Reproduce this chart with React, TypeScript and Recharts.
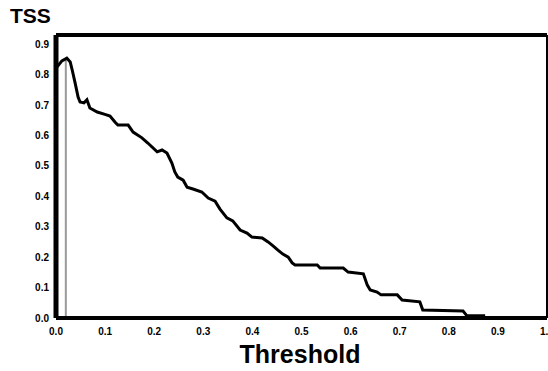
import React from 'react';
import { LineChart, Line, XAxis, YAxis, ReferenceLine } from 'recharts';

const thresholds = [0.002, 0.012, 0.022, 0.029, 0.033, 0.039, 0.045, 0.049, 0.057, 0.063, 0.069, 0.084, 0.098, 0.110, 0.120, 0.126, 0.147, 0.157, 0.175, 0.187, 0.206, 0.216, 0.226, 0.236, 0.242, 0.248, 0.259, 0.267, 0.279, 0.297, 0.310, 0.324, 0.334, 0.348, 0.360, 0.375, 0.389, 0.399, 0.420, 0.432, 0.442, 0.452, 0.462, 0.473, 0.481, 0.487, 0.532, 0.538, 0.585, 0.595, 0.626, 0.634, 0.640, 0.654, 0.662, 0.695, 0.705, 0.741, 0.747, 0.829, 0.837, 0.874];
const tssValues = [0.825, 0.845, 0.854, 0.841, 0.815, 0.772, 0.726, 0.710, 0.707, 0.717, 0.690, 0.677, 0.670, 0.664, 0.644, 0.634, 0.634, 0.611, 0.592, 0.575, 0.546, 0.552, 0.542, 0.509, 0.480, 0.463, 0.453, 0.430, 0.424, 0.414, 0.394, 0.384, 0.358, 0.329, 0.319, 0.289, 0.279, 0.266, 0.263, 0.250, 0.237, 0.223, 0.210, 0.200, 0.181, 0.174, 0.174, 0.164, 0.164, 0.151, 0.145, 0.108, 0.092, 0.085, 0.076, 0.076, 0.059, 0.053, 0.026, 0.023, 0.007, 0.007];
const xTicks = [0, 0.1, 0.2, 0.3, 0.4, 0.5, 0.6, 0.7, 0.8, 0.9, 1.0];
const yTicks = [0, 0.1, 0.2, 0.3, 0.4, 0.5, 0.6, 0.7, 0.8, 0.9];
const optimalThreshold = 0.02;
const optimalTss = 0.85;
const yMax = 0.93;

const data = thresholds.map((x, i) => ({ x, tss: tssValues[i] }));

const tickStyle = { fontSize: 10, fontWeight: 'bold' as const, fill: '#000', fontFamily: 'Liberation Sans, Arial, sans-serif' };

export default function App() {
  return (
    <div style={{ position: 'absolute', left: 0, top: 0, width: 548, height: 371, background: '#fff', fontFamily: 'Liberation Sans, Arial, sans-serif' }}>
      <LineChart width={548} height={371} data={data} margin={{ top: 35, right: 1, left: 0, bottom: 33 }}>
        <XAxis
          dataKey="x"
          type="number"
          domain={[0, 1]}
          ticks={xTicks}
          tickFormatter={(v: number) => v.toFixed(1)}
          tick={tickStyle}
          tickLine={false}
          tickSize={0}
          tickMargin={10}
          height={20}
          axisLine={{ stroke: '#000', strokeWidth: 4 }}
          interval={0}
        />
        <YAxis
          type="number"
          domain={[0, yMax]}
          ticks={yTicks}
          tickFormatter={(v: number) => v.toFixed(1)}
          tick={tickStyle}
          tickLine={false}
          tickSize={0}
          tickMargin={7}
          width={56}
          axisLine={{ stroke: '#000', strokeWidth: 5 }}
          interval={0}
        />
        <ReferenceLine y={yMax} stroke="#000" strokeWidth={4} />
        <ReferenceLine x={1} stroke="#000" strokeWidth={2} />
        <ReferenceLine
          segment={[{ x: optimalThreshold, y: 0 }, { x: optimalThreshold, y: optimalTss }]}
          stroke="#999"
          strokeWidth={2}
        />
        <Line
          type="linear"
          dataKey="tss"
          stroke="#000"
          strokeWidth={3}
          dot={false}
          isAnimationActive={false}
        />
      </LineChart>
      <div style={{ position: 'absolute', left: 10, top: 5, fontSize: 21, lineHeight: '21px', fontWeight: 'bold', color: '#000' }}>TSS</div>
      <div style={{ position: 'absolute', left: 0, width: 600, top: 342, textAlign: 'center', fontSize: 25, lineHeight: '25px', fontWeight: 'bold', color: '#000' }}>Threshold</div>
    </div>
  );
}
